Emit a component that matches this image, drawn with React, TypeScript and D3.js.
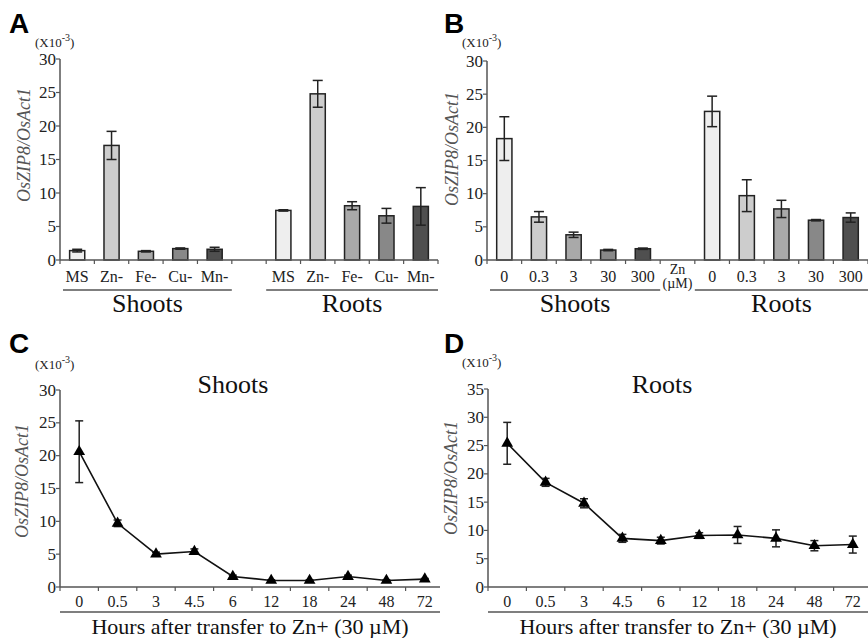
import React, { useRef, useEffect } from "react";
import * as d3 from "d3";

// panel A - ionic deficiency
const defCats = ["MS", "Zn-", "Fe-", "Cu-", "Mn-"];
const defShoots = [1.4, 17.1, 1.3, 1.7, 1.6];
const defShootsErr = [0.2, 2.1, 0.1, 0.1, 0.3];
const defRoots = [7.4, 24.8, 8.1, 6.6, 8.0];
const defRootsErr = [0.1, 2.0, 0.6, 1.1, 2.8];

// panel B - Zn concentration (uM)
const znCats = ["0", "0.3", "3", "30", "300"];
const znShoots = [18.3, 6.5, 3.8, 1.5, 1.7];
const znShootsErr = [3.3, 0.8, 0.4, 0.1, 0.1];
const znRoots = [22.4, 9.7, 7.7, 6.0, 6.4];
const znRootsErr = [2.3, 2.4, 1.3, 0.1, 0.7];

// panels C, D - time course
const hours = ["0", "0.5", "3", "4.5", "6", "12", "18", "24", "48", "72"];
const tcShoots = [20.6, 9.7, 5.0, 5.4, 1.6, 1.0, 1.0, 1.6, 1.0, 1.2];
const tcShootsErr = [4.7, 0.5, 0.3, 0.4, 0.2, 0.1, 0.1, 0.2, 0.1, 0.1];
const tcRoots = [25.4, 18.5, 14.8, 8.6, 8.2, 9.1, 9.2, 8.6, 7.3, 7.5];
const tcRootsErr = [3.7, 0.7, 0.8, 0.7, 0.6, 0.5, 1.5, 1.5, 0.9, 1.5];

const barFills = ["#eeeeee", "#cdcdcd", "#a9a9a9", "#888888", "#4f4f4f"];

const serif = "Liberation Serif, Times New Roman, Times, serif";
const axisCol = "#555";

function yAxis(g, y, x0, max) {
  g.append("line").attr("x1", x0).attr("x2", x0)
    .attr("y1", y(0)).attr("y2", y(max))
    .attr("stroke", axisCol).attr("stroke-width", 1.5);
  const ticks = d3.range(0, max + 0.1, 5);
  ticks.forEach((t) => {
    g.append("line").attr("x1", x0 - 4).attr("x2", x0)
      .attr("y1", y(t)).attr("y2", y(t))
      .attr("stroke", axisCol).attr("stroke-width", 1.2);
    g.append("text").attr("x", x0 - 4).attr("y", y(t) + 5.5)
      .attr("text-anchor", "end").attr("font-family", serif)
      .attr("font-size", 17).attr("fill", "#222").text(t);
  });
}

function decorations(g, letter, lx, ly, ux, uy, labX, labY) {
  g.append("text").attr("x", lx).attr("y", ly)
    .attr("font-family", "Liberation Sans, Arial, sans-serif")
    .attr("font-weight", "bold").attr("font-size", 28).attr("fill", "#000")
    .text(letter);
  const u = g.append("text").attr("x", ux).attr("y", uy)
    .attr("font-family", serif).attr("font-size", 13).attr("fill", "#222");
  u.append("tspan").text("(X10");
  u.append("tspan").attr("dy", -6).attr("font-size", 10).text("-3");
  u.append("tspan").attr("dy", 6).text(")");
  g.append("text")
    .attr("transform", `translate(${labX},${labY}) rotate(-90)`)
    .attr("text-anchor", "middle").attr("font-family", serif)
    .attr("font-style", "italic").attr("font-size", 18).attr("fill", "#555")
    .text("OsZIP8/OsAct1");
}

function errBar(g, cx, yTop, yBot, cap) {
  g.append("line").attr("x1", cx).attr("x2", cx).attr("y1", yTop).attr("y2", yBot)
    .attr("stroke", "#222").attr("stroke-width", 1.5);
  [yTop, yBot].forEach((yy) =>
    g.append("line").attr("x1", cx - cap).attr("x2", cx + cap).attr("y1", yy).attr("y2", yy)
      .attr("stroke", "#222").attr("stroke-width", 1.5));
}

function barPanel(svg, opts) {
  const { cats, shoots, shootsErr, roots, rootsErr, x0, x1, yTop, gapLabel } = opts;
  const g = svg.append("g");
  const keys = [...cats.map((c) => "S" + c), "gap", ...cats.map((c) => "R" + c)];
  const x = d3.scaleBand().domain(keys).range([x0, x1]).padding(0);
  const y = d3.scaleLinear().domain([0, 30]).range([260, yTop]);
  const bw = x.bandwidth() * 0.44;

  const rows = [
    ...cats.map((c, i) => ({ key: "S" + c, label: c, v: shoots[i], e: shootsErr[i], fill: barFills[i] })),
    ...cats.map((c, i) => ({ key: "R" + c, label: c, v: roots[i], e: rootsErr[i], fill: barFills[i] })),
  ];

  rows.forEach((r) => {
    const cx = x(r.key) + x.bandwidth() / 2;
    g.append("rect").attr("x", cx - bw / 2).attr("y", y(r.v))
      .attr("width", bw).attr("height", y(0) - y(r.v))
      .attr("fill", r.fill).attr("stroke", "#222").attr("stroke-width", 1.5);
    errBar(g, cx, y(r.v + r.e), y(r.v - r.e), 5);
    g.append("text").attr("x", cx).attr("y", 282).attr("text-anchor", "middle")
      .attr("font-family", serif).attr("font-size", 16).attr("fill", "#222").text(r.label);
  });

  // x axis with ticks on band borders
  g.append("line").attr("x1", x0).attr("x2", x1).attr("y1", y(0)).attr("y2", y(0))
    .attr("stroke", axisCol).attr("stroke-width", 1.5);
  [...keys.map((k) => x(k)), x1].forEach((t) =>
    g.append("line").attr("x1", t).attr("x2", t).attr("y1", y(0)).attr("y2", y(0) + 4)
      .attr("stroke", axisCol).attr("stroke-width", 1.2));
  yAxis(g, y, x0, 30);

  if (gapLabel) {
    const gx = x("gap") + x.bandwidth() / 2;
    ["Zn", "(\u00b5M)"].forEach((t, i) =>
      g.append("text").attr("x", gx).attr("y", 274 + i * 14).attr("text-anchor", "middle")
        .attr("font-family", serif).attr("font-size", 14).attr("fill", "#222").text(t));
  }

  // group underlines + labels
  const groups = [
    { name: "Shoots", a: x0 + 3, b: x("gap") },
    { name: "Roots", a: x("gap") + x.bandwidth(), b: x1 },
  ];
  groups.forEach((gr) => {
    g.append("line").attr("x1", gr.a).attr("x2", gr.b).attr("y1", 290).attr("y2", 290)
      .attr("stroke", axisCol).attr("stroke-width", 1.5);
    g.append("text").attr("x", (gr.a + gr.b) / 2).attr("y", 312).attr("text-anchor", "middle")
      .attr("font-family", serif).attr("font-size", 26).attr("fill", "#111").text(gr.name);
  });
  return g;
}

function linePanel(svg, opts) {
  const { vals, errs, x0, axisEnd, yMax, yTop, title, titleX } = opts;
  const g = svg.append("g");
  const x = d3.scaleBand().domain(hours).range([x0, x0 + 384]).padding(0);
  const y = d3.scaleLinear().domain([0, yMax]).range([587, yTop]);
  const cx = (h) => x(h) + x.bandwidth() / 2;

  g.append("line").attr("x1", x0).attr("x2", axisEnd).attr("y1", y(0)).attr("y2", y(0))
    .attr("stroke", axisCol).attr("stroke-width", 1.5);
  hours.forEach((h) => {
    g.append("line").attr("x1", x(h)).attr("x2", x(h)).attr("y1", y(0)).attr("y2", y(0) + 4)
      .attr("stroke", axisCol).attr("stroke-width", 1.2);
    g.append("text").attr("x", cx(h)).attr("y", 607).attr("text-anchor", "middle")
      .attr("font-family", serif).attr("font-size", 16).attr("fill", "#222").text(h);
  });
  yAxis(g, y, x0, yMax);

  const line = d3.line().x((d, i) => cx(hours[i])).y((d) => y(d));
  g.append("path").attr("d", line(vals)).attr("fill", "none")
    .attr("stroke", "#111").attr("stroke-width", 1.6);
  vals.forEach((v, i) => errBar(g, cx(hours[i]), y(v + errs[i]), y(v - errs[i]), 4));
  const tri = d3.symbol().type(d3.symbolTriangle).size(60);
  vals.forEach((v, i) =>
    g.append("path").attr("d", tri()).attr("transform", `translate(${cx(hours[i])},${y(v)})`)
      .attr("fill", "#000"));

  g.append("line").attr("x1", x0).attr("x2", axisEnd).attr("y1", 612).attr("y2", 612)
    .attr("stroke", axisCol).attr("stroke-width", 1.5);
  g.append("text").attr("x", (x0 + axisEnd) / 2).attr("y", 634).attr("text-anchor", "middle")
    .attr("font-family", serif).attr("font-size", 22).attr("fill", "#111")
    .text("Hours after transfer to Zn+ (30 \u00b5M)");
  g.append("text").attr("x", titleX).attr("y", 393).attr("text-anchor", "middle")
    .attr("font-family", serif).attr("font-size", 26).attr("fill", "#111").text(title);
}

function App() {
  const svgRef = useRef(null);

  useEffect(() => {
    const svg = d3.select(svgRef.current);
    svg.selectAll("*").remove();

    barPanel(svg, { cats: defCats, shoots: defShoots, shootsErr: defShootsErr,
      roots: defRoots, rootsErr: defRootsErr, x0: 60, x1: 438, yTop: 59, gapLabel: false });
    decorations(svg, "A", 9, 33, 35, 47, 30, 145);

    barPanel(svg, { cats: znCats, shoots: znShoots, shootsErr: znShootsErr,
      roots: znRoots, rootsErr: znRootsErr, x0: 487, x1: 868, yTop: 61, gapLabel: true });
    decorations(svg, "B", 444, 33, 462, 47, 458, 149);

    linePanel(svg, { vals: tcShoots, errs: tcShootsErr, x0: 60, axisEnd: 440,
      yMax: 30, yTop: 390, title: "Shoots", titleX: 233 });
    decorations(svg, "C", 9, 353, 35, 369, 28, 481);

    linePanel(svg, { vals: tcRoots, errs: tcRootsErr, x0: 488, axisEnd: 868,
      yMax: 35, yTop: 389, title: "Roots", titleX: 662 });
    decorations(svg, "D", 444, 353, 462, 367, 457, 478);
  }, []);

  return (
    <svg ref={svgRef} width={868} height={638}
      style={{ position: "absolute", left: 0, top: 0, background: "#fff" }} />
  );
}

export default App;
